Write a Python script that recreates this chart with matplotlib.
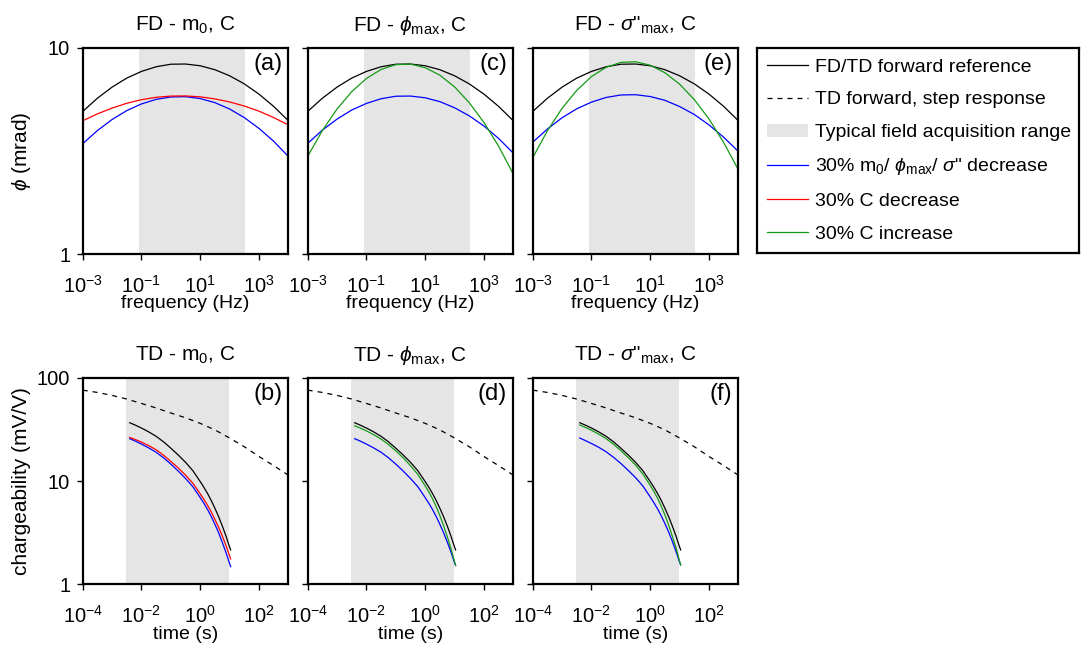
import numpy as np
import matplotlib
matplotlib.use('Agg')
import matplotlib.pyplot as plt
from matplotlib.lines import Line2D
from matplotlib.patches import Patch

plt.rcParams['font.family'] = ['Liberation Sans', 'DejaVu Sans']
plt.rcParams['mathtext.fontset'] = 'custom'
plt.rcParams['mathtext.rm'] = 'Liberation Sans'
plt.rcParams['mathtext.it'] = 'Liberation Sans:italic'
plt.rcParams['mathtext.default'] = 'regular'

# --- frequency domain: phase (mrad) vs frequency (Hz)
freq = [0.001, 0.00316, 0.01, 0.0316, 0.1, 0.316, 1, 3.16, 10, 31.6, 100, 316, 1000, 3160, 10000]
fd_ref = [4.90, 5.68, 6.43, 7.11, 7.66, 8.07, 8.30, 8.32, 8.16, 7.81, 7.30, 6.67, 5.95, 5.19, 4.42]
fd_m0_down = [3.42, 3.96, 4.48, 4.95, 5.33, 5.61, 5.76, 5.78, 5.66, 5.41, 5.04, 4.58, 4.06, 3.52, 2.97]
fd_c_down = [4.42, 4.77, 5.09, 5.37, 5.59, 5.74, 5.82, 5.83, 5.77, 5.64, 5.45, 5.21, 4.92, 4.58, 4.22]
fd_phimax_down = [3.43, 3.98, 4.50, 4.98, 5.36, 5.65, 5.81, 5.82, 5.71, 5.47, 5.11, 4.67, 4.17, 3.63, 3.08]
fd_c_up_phi = [2.97, 3.96, 5.04, 6.11, 7.08, 7.83, 8.26, 8.31, 7.99, 7.35, 6.45, 5.41, 4.34, 3.33, 2.44]
fd_sig_down = [3.48, 4.03, 4.57, 5.05, 5.44, 5.73, 5.89, 5.91, 5.79, 5.55, 5.18, 4.74, 4.22, 3.68, 3.14]
fd_c_up_sig = [2.93, 3.95, 5.08, 6.20, 7.23, 8.02, 8.47, 8.53, 8.21, 7.55, 6.65, 5.60, 4.51, 3.47, 2.56]

# --- time domain: chargeability (mV/V) vs time (s)
t_step = [1e-4, 3.16e-4, 0.001, 0.00316, 0.01, 0.0316, 0.1, 0.316, 1, 3.16, 10, 31.6, 100, 316, 1000]
td_step = [75.9, 72.1, 67.5, 62.2, 56.4, 51.0, 45.6, 41.0, 36.2, 31.3, 26.1, 21.5, 17.3, 14.1, 11.4]

t_gate = [0.004, 0.0063, 0.01, 0.0178, 0.0316, 0.0562, 0.1, 0.178, 0.316, 0.562,
          1, 1.33, 1.78, 2.37, 3.16, 4.22, 5.62, 7.5, 10, 10.9]
td_ref = [36.7, 34.7, 32.6, 29.9, 27.1, 24.0, 20.8, 17.9, 15.2, 12.6,
          9.89, 8.71, 7.57, 6.49, 5.46, 4.53, 3.69, 2.95, 2.30, 2.15]
td_m0_down = [25.7, 24.3, 22.8, 20.9, 19.0, 16.8, 14.6, 12.5, 10.6, 8.82,
              6.92, 6.10, 5.30, 4.54, 3.82, 3.17, 2.56, 2.04, 1.59, 1.48]
td_c_down = [26.4, 25.2, 23.8, 22.0, 20.1, 17.8, 15.5, 13.4, 11.4, 9.53,
             7.52, 6.66, 5.83, 5.03, 4.26, 3.58, 2.95, 2.39, 1.89, 1.76]
td_phimax_down = [25.7, 24.3, 22.8, 20.9, 19.0, 16.8, 14.6, 12.5, 10.6, 8.82,
                  6.92, 6.10, 5.30, 4.54, 3.82, 3.17, 2.58, 2.07, 1.62, 1.52]
td_c_up_phi = [34.3, 32.5, 30.6, 28.1, 25.5, 22.6, 19.6, 16.8, 14.1, 11.6,
               9.00, 7.84, 6.74, 5.65, 4.64, 3.71, 2.92, 2.24, 1.66, 1.53]
td_sig_down = [26.1, 24.6, 23.1, 21.2, 19.2, 17.0, 14.8, 12.7, 10.8, 8.95,
               7.02, 6.18, 5.37, 4.61, 3.88, 3.22, 2.62, 2.09, 1.64, 1.54]
td_c_up_sig = [34.9, 33.0, 31.0, 28.4, 25.7, 22.7, 19.7, 16.9, 14.3, 11.7,
               9.10, 7.93, 6.81, 5.71, 4.70, 3.76, 2.95, 2.27, 1.68, 1.54]

fd_band = [0.08, 330]
td_band = [0.003, 9.6]

BLUE = '#0000ff'
RED = '#ff0000'
GREEN = '#159a15'
SHADE = '#e5e5e5'
LW = 0.9

fig = plt.figure(figsize=(10.81, 6.51), dpi=100)

lefts = [0.0765, 0.2846, 0.4928]
w, h = 0.1902, 0.3172
top_b, bot_b = 0.6098, 0.1025

fd_titles = ['FD - m$_0$, C', r'FD - $\mathit{\phi}_{max}$, C', r'FD - $\mathit{\sigma}$"$_{max}$, C']
td_titles = ['TD - m$_0$, C', r'TD - $\mathit{\phi}_{max}$, C', r'TD - $\mathit{\sigma}$"$_{max}$, C']
fd_lines = [[(fd_m0_down, BLUE), (fd_c_down, RED)],
            [(fd_phimax_down, BLUE), (fd_c_up_phi, GREEN)],
            [(fd_sig_down, BLUE), (fd_c_up_sig, GREEN)]]
td_lines = [[(td_m0_down, BLUE), (td_c_down, RED)],
            [(td_phimax_down, BLUE), (td_c_up_phi, GREEN)],
            [(td_sig_down, BLUE), (td_c_up_sig, GREEN)]]
fd_letters = ['(a)', '(c)', '(e)']
td_letters = ['(b)', '(d)', '(f)']


def style(ax):
    ax.set_xscale('log')
    ax.set_yscale('log')
    for s in ax.spines.values():
        s.set_linewidth(1.6)
    ax.tick_params(direction='out', length=4, width=1, labelsize=14.5)
    ax.tick_params(axis='x', pad=11)
    ax.tick_params(axis='y', pad=5)


for i in range(3):
    # frequency domain panel
    ax = fig.add_axes([lefts[i], top_b, w, h])
    style(ax)
    ax.axvspan(fd_band[0], fd_band[1], color=SHADE, lw=0, zorder=0)
    ax.plot(freq, fd_ref, color='k', lw=LW)
    for vals, c in fd_lines[i]:
        ax.plot(freq, vals, color=c, lw=LW)
    ax.set_xlim(1e-3, 1e4)
    ax.set_ylim(1, 10)
    ax.set_xticks([1e-3, 1e-1, 1e1, 1e3])
    ax.set_yticks([1, 10])
    ax.minorticks_off()
    if i == 0:
        ax.set_yticklabels(['1', '10'])
        ax.set_ylabel(r'$\mathit{\phi}$ (mrad)', fontsize=15, labelpad=11)
    else:
        ax.set_yticklabels([])
    ax.set_xlabel('frequency (Hz)', fontsize=14, labelpad=-1)
    ax.set_title(fd_titles[i], fontsize=15, pad=12)
    ax.text(0.97, 0.975, fd_letters[i], transform=ax.transAxes, ha='right', va='top', fontsize=17)

    # time domain panel
    ax = fig.add_axes([lefts[i], bot_b, w, h])
    style(ax)
    ax.axvspan(td_band[0], td_band[1], color=SHADE, lw=0, zorder=0)
    ax.plot(t_step, td_step, color='k', lw=LW, ls=(0, (4, 4)))
    ax.plot(t_gate, td_ref, color='k', lw=LW)
    for vals, c in td_lines[i]:
        ax.plot(t_gate, vals, color=c, lw=LW)
    ax.set_xlim(1e-4, 1e3)
    ax.set_ylim(1, 100)
    ax.set_xticks([1e-4, 1e-2, 1e0, 1e2])
    ax.set_yticks([1, 10, 100])
    ax.minorticks_off()
    if i == 0:
        ax.set_yticklabels(['1', '10', '100'])
        ax.set_ylabel('chargeability (mV/V)', fontsize=15, labelpad=4)
    else:
        ax.set_yticklabels([])
    ax.set_xlabel('time (s)', fontsize=14, labelpad=-1)
    ax.set_title(td_titles[i], fontsize=15, pad=12)
    ax.text(0.97, 0.975, td_letters[i], transform=ax.transAxes, ha='right', va='top', fontsize=17)

# legend in its own framed box
lax = fig.add_axes([0.7003, 0.6109, 0.2979, 0.3149])
lax.set_xticks([])
lax.set_yticks([])
for s in lax.spines.values():
    s.set_linewidth(1.6)
handles = [Line2D([], [], color='k', lw=LW),
           Line2D([], [], color='k', lw=LW, ls=(0, (4, 4))),
           Patch(facecolor=SHADE, edgecolor='none'),
           Line2D([], [], color=BLUE, lw=LW),
           Line2D([], [], color=RED, lw=LW),
           Line2D([], [], color=GREEN, lw=LW)]
labels = ['FD/TD forward reference',
          'TD forward, step response',
          'Typical field acquisition range',
          r'30% m$_0$/ $\mathit{\phi}_{max}$/ $\mathit{\sigma}$" decrease',
          '30% C decrease',
          '30% C increase']
lax.legend(handles, labels, loc='upper left', frameon=False, fontsize=14,
           handlelength=2.1, handletextpad=0.4, labelspacing=0.78,
           borderaxespad=0.1, borderpad=0.4)

fig.savefig('out.png', dpi=100)
